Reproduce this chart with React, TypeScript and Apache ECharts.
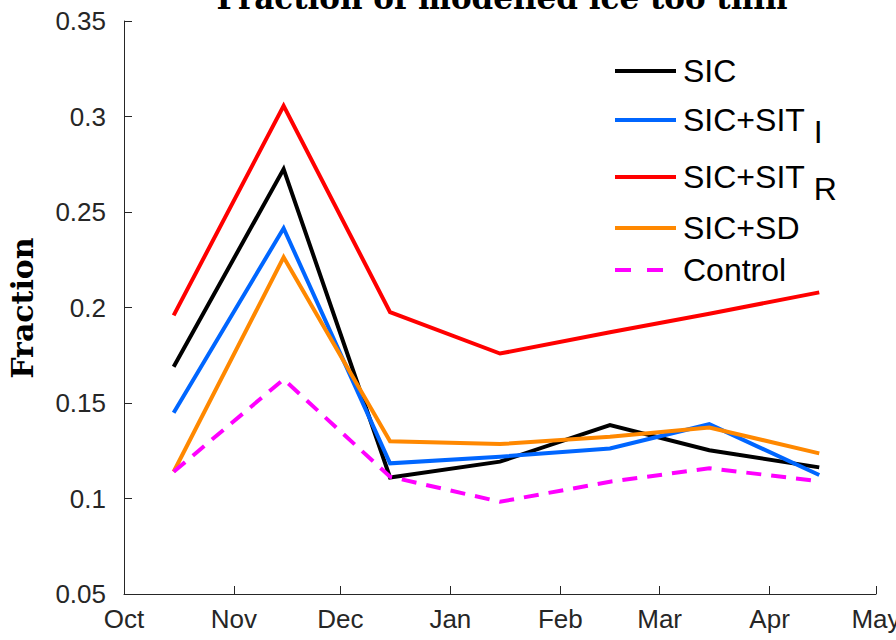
import React, { useEffect, useRef } from "react";
import * as echarts from "echarts";

const monthLabels = ["Jan", "Feb", "Mar", "Apr", "May", "Jun", "Jul", "Aug", "Sep", "Oct", "Nov", "Dec"];
const dates = ["2010-10-15", "2010-11-15", "2010-12-15", "2011-01-15", "2011-02-15", "2011-03-15", "2011-04-15"];
const sic = [0.169, 0.2725, 0.111, 0.1193, 0.1384, 0.1253, 0.1163];
const sitI = [0.1449, 0.2415, 0.1184, 0.1219, 0.1262, 0.1389, 0.1123];
const sitR = [0.1959, 0.3056, 0.1976, 0.1759, 0.187, 0.1967, 0.2079];
const sd = [0.114, 0.2263, 0.13, 0.1285, 0.1323, 0.1372, 0.1236];
const control = [0.114, 0.1624, 0.1114, 0.0983, 0.1088, 0.1158, 0.1091];

const seriesDefs = [
  { name: "SIC", sub: "", data: sic, color: "#000000", dashed: false },
  { name: "SIC+SIT", sub: "I", data: sitI, color: "#0066FF", dashed: false },
  { name: "SIC+SIT", sub: "R", data: sitR, color: "#FF0000", dashed: false },
  { name: "SIC+SD", sub: "", data: sd, color: "#FF8800", dashed: false },
  { name: "Control", sub: "", data: control, color: "#FF00FF", dashed: true },
];
const legendRowY = [71, 120, 177, 228, 270];

const AXIS_COLOR = "#262626";
const SANS = "'Liberation Sans', Arial, sans-serif";
const SERIF = "'DejaVu Serif', serif";

export default function App() {
  const ref = useRef<HTMLDivElement>(null);
  useEffect(() => {
    if (!ref.current) return;
    const chart = echarts.init(ref.current, undefined, { renderer: "svg" });
    const legendFont = 32;
    const canvas = document.createElement("canvas");
    const ctx = canvas.getContext("2d")!;
    ctx.font = `${legendFont}px 'Liberation Sans'`;

    const legendGraphics: any[] = [];
    seriesDefs.forEach((s, i) => {
      const y = legendRowY[i];
      legendGraphics.push({
        type: "line",
        shape: { x1: 615, y1: y, x2: 676, y2: y },
        style: { stroke: s.color, lineWidth: 4, lineDash: s.dashed ? [16, 16] : null },
        z: 100,
      });
      legendGraphics.push({
        type: "text",
        x: 683,
        y: y,
        style: { text: s.name, font: `${legendFont}px ${SANS}`, fill: "#000", textAlign: "left", textVerticalAlign: "middle" },
        z: 100,
      });
      if (s.sub) {
        const w = ctx.measureText(s.name + " ").width;
        legendGraphics.push({
          type: "text",
          x: 683 + w,
          y: y + 12,
          style: { text: s.sub, font: `${legendFont}px ${SANS}`, fill: "#000", textAlign: "left", textVerticalAlign: "middle" },
          z: 100,
        });
      }
    });

    chart.setOption({
      animation: false,
      backgroundColor: "#ffffff",
      grid: { left: 124, right: 20, top: 21, bottom: 46, containLabel: false, outerBoundsMode: "none" },
      xAxis: {
        type: "time",
        min: new Date(2010, 9, 1).getTime(),
        max: new Date(2011, 4, 1).getTime(),
        splitNumber: 7,
        minInterval: 28 * 24 * 3600 * 1000,
        maxInterval: 31 * 24 * 3600 * 1000,
        axisLine: { show: true, lineStyle: { color: AXIS_COLOR, width: 1 } },
        axisTick: { show: true, inside: true, length: 8, lineStyle: { color: AXIS_COLOR } },
        splitLine: { show: false },
        axisLabel: {
          show: true,
          color: AXIS_COLOR,
          fontFamily: SANS,
          fontSize: 26,
          margin: 12,
          showMinLabel: true,
          showMaxLabel: true,
          hideOverlap: false,
          formatter: (val: number) => monthLabels[new Date(val).getMonth()],
        },
      },
      yAxis: {
        type: "value",
        min: 0.05,
        max: 0.35,
        interval: 0.05,
        axisLine: { show: true, lineStyle: { color: AXIS_COLOR, width: 1 } },
        axisTick: { show: true, inside: true, length: 8, lineStyle: { color: AXIS_COLOR } },
        splitLine: { show: false },
        axisLabel: {
          color: AXIS_COLOR,
          fontFamily: SANS,
          fontSize: 26,
          margin: 18,
          formatter: (v: number) => String(Math.round(v * 100) / 100),
        },
      },
      series: seriesDefs.map((s) => ({
        type: "line",
        name: s.sub ? s.name + "_" + s.sub : s.name,
        data: dates.map((d, i) => [d, s.data[i]]),
        symbol: "none",
        lineStyle: { color: s.color, width: 4, type: s.dashed ? [15, 10] : "solid", join: "miter", cap: "butt" },
        itemStyle: { color: s.color },
      })),
      graphic: [
        {
          type: "text",
          x: 502,
          y: -2,
          style: {
            text: "Fraction of modelled ice too thin",
            font: `bold 31px ${SERIF}`,
            fill: "#000",
            textAlign: "center",
            textVerticalAlign: "middle",
          },
          z: 100,
        },
        {
          type: "text",
          x: 22,
          y: 308,
          rotation: Math.PI / 2,
          style: {
            text: "Fraction",
            font: `bold 30px ${SERIF}`,
            fill: "#000",
            textAlign: "center",
            textVerticalAlign: "middle",
          },
          z: 100,
        },
        ...legendGraphics,
      ],
    });
    return () => chart.dispose();
  }, []);
  return <div ref={ref} style={{ position: "fixed", left: 0, top: 0, width: 896, height: 640 }} />;
}
